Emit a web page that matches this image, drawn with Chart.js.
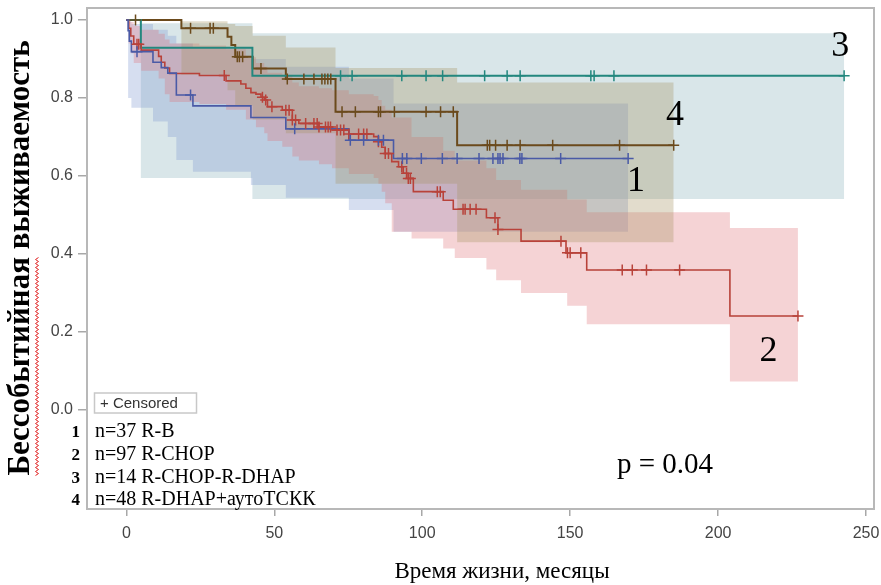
<!DOCTYPE html>
<html>
<head>
<meta charset="utf-8">
<script src="https://cdn.jsdelivr.net/npm/chart.js@4/dist/chart.umd.min.js"></script>
<style>
  html, body { margin: 0; padding: 0; background: #fff; }
  #wrap { width: 881px; height: 585px; position: relative; }
</style>
</head>
<body>
<div id="wrap"><canvas id="c" width="881" height="585"></canvas></div>
<script>
// Axis ticks
const xTicks = [0, 50, 100, 150, 200, 250];
const yTicks = [0, 0.2, 0.4, 0.6, 0.8, 1.0];

// Group labels (legend rows) and curve tags
const groupNames = ['n=37 R-B', 'n=97 R-CHOP', 'n=14 R-CHOP-R-DHAP', 'n=48 R-DHAP+аутоТСКК'];
const groupTags = ['1', '2', '3', '4'];
const pValueText = 'p = 0.04';

// 1: R-B — Kaplan–Meier steps (months, survival)
const g1Times = [0, 0.6, 1.0, 1.7, 9.0, 11.8, 14.0, 16.9, 22.5, 42.1, 53.9, 75.2, 90.3, 169.6];
const g1Surv  = [1, 0.973, 0.946, 0.919, 0.892, 0.878, 0.864, 0.808, 0.780, 0.750, 0.721, 0.692, 0.645, 0.645];
const g1Censor = [3.6, 21.7, 56.9, 75.7, 80.2, 85.2, 86.9, 93.3, 94.8, 99.7, 106.8, 111.8, 119.2, 123.9, 125.6, 126.3, 127.3, 133.0, 133.7, 146.8, 169.6];
const g1BandT  = [0, 0.6, 1.7, 9.0, 14.0, 16.9, 22.5, 42.1, 53.9, 75.2, 90.3, 169.6];
const g1Lower  = [1, 0.80, 0.775, 0.74, 0.70, 0.641, 0.611, 0.577, 0.544, 0.513, 0.457, 0.457];
const g1Upper  = [1, 0.996, 0.99, 0.975, 0.96, 0.94, 0.93, 0.90, 0.88, 0.85, 0.786, 0.786];

// 2: R-CHOP
const g2Times = [0, 0.8, 1.5, 2.5, 5.0, 10.9, 11.8, 13.0, 14.6, 24.7, 33.7, 38.7, 40.4, 42.1, 43.8, 45.5, 46.6, 47.7, 52.7, 56.1, 58.3, 65.1, 69.5, 75.2, 83.6, 85.2, 86.3, 87.5, 89.7, 92.0, 93.6, 95.3, 97.0, 107.1, 110.5, 121.7, 125.6, 133.4, 148.6, 155.6, 204.0, 227.0];
const g2Surv  = [1, 0.979, 0.959, 0.938, 0.923, 0.907, 0.892, 0.877, 0.863, 0.858, 0.844, 0.836, 0.825, 0.814, 0.810, 0.802, 0.795, 0.778, 0.769, 0.744, 0.735, 0.726, 0.718, 0.708, 0.701, 0.688, 0.674, 0.658, 0.637, 0.624, 0.607, 0.594, 0.560, 0.538, 0.515, 0.493, 0.463, 0.433, 0.403, 0.359, 0.241, 0.241];
const g2Censor = [3.6, 4.2, 33.1, 46.0, 47.1, 49.2, 53.9, 55.0, 56.1, 57.2, 60.6, 63.4, 64.5, 65.1, 67.3, 68.2, 69.0, 71.2, 72.4, 73.5, 75.2, 78.5, 80.2, 81.3, 85.2, 87.5, 88.6, 93.1, 94.7, 95.3, 96.0, 105.1, 106.1, 113.8, 114.5, 116.2, 118.2, 124.6, 125.6, 146.9, 149.1, 150.0, 153.6, 167.6, 171.0, 175.8, 187.0, 227.0];
const g2BandT  = [0, 0.8, 1.5, 2.5, 5.0, 10.9, 13.0, 14.6, 24.7, 33.7, 40.4, 43.8, 46.6, 47.7, 52.7, 56.1, 58.3, 65.1, 69.5, 75.2, 83.6, 85.2, 86.3, 87.5, 89.7, 96.4, 107.1, 111.0, 121.7, 125.0, 133.4, 149.0, 155.6, 204.0, 227.0];
const g2Lower  = [1, 0.94, 0.915, 0.89, 0.87, 0.85, 0.81, 0.79, 0.785, 0.77, 0.745, 0.725, 0.71, 0.69, 0.675, 0.65, 0.64, 0.63, 0.62, 0.605, 0.595, 0.58, 0.56, 0.53, 0.457, 0.44, 0.414, 0.39, 0.36, 0.333, 0.30, 0.267, 0.22, 0.073, 0.073];
const g2Upper  = [1, 1.0, 0.995, 0.985, 0.975, 0.965, 0.95, 0.94, 0.935, 0.925, 0.905, 0.89, 0.88, 0.865, 0.86, 0.84, 0.83, 0.825, 0.82, 0.81, 0.805, 0.795, 0.78, 0.77, 0.75, 0.70, 0.665, 0.64, 0.62, 0.59, 0.565, 0.54, 0.507, 0.467, 0.467];

// 3: R-CHOP-R-DHAP
const g3Times = [0, 4.9, 42.6, 242.6];
const g3Surv  = [1, 0.929, 0.857, 0.857];
const g3Censor = [72.4, 76.3, 93.1, 101.3, 106.9, 121.1, 128.7, 133.1, 157.0, 158.1, 164.8, 242.6];
const g3BandT  = [0, 4.9, 42.6, 242.6];
const g3Lower  = [1, 0.595, 0.541, 0.541];
const g3Upper  = [1, 0.992, 0.966, 0.966];

// 4: R-DHAP + auto-HSCT
const g4Times = [0, 18.6, 34.2, 35.5, 36.8, 42.7, 53.9, 70.7, 111.8, 185.0];
const g4Surv  = [1, 0.979, 0.957, 0.936, 0.906, 0.876, 0.849, 0.765, 0.679, 0.679];
const g4Censor = [3.1, 21.7, 28.3, 29.4, 37.5, 38.2, 39.3, 45.5, 54.4, 60.0, 63.4, 66.1, 67.1, 68.1, 69.1, 72.9, 77.4, 85.2, 85.9, 90.6, 101.3, 106.2, 110.5, 122.0, 122.8, 124.8, 128.7, 133.1, 144.1, 166.7, 185.0];
const g4BandT  = [0, 18.6, 34.2, 36.8, 42.7, 53.9, 70.7, 111.8, 185.0];
const g4Lower  = [1, 0.86, 0.82, 0.78, 0.745, 0.71, 0.58, 0.43, 0.43];
const g4Upper  = [1, 0.997, 0.99, 0.985, 0.96, 0.93, 0.877, 0.84, 0.84];

// Where the curve tags sit (months, survival)
const tagX = [172.3, 217.0, 241.3, 185.4];
const tagY = [0.587, 0.149, 0.931, 0.754];

const lineColors = ['#4a5aa6', '#b8423a', '#23877e', '#6b4a1c'];
const bandColors = ['rgba(120,145,205,0.30)', 'rgba(222,110,115,0.30)', 'rgba(120,165,175,0.28)', 'rgba(165,145,95,0.32)'];
const lineWidths = [1.6, 1.6, 2, 2];

const groups = [
  { t: g1Times, s: g1Surv, c: g1Censor, bt: g1BandT, lo: g1Lower, up: g1Upper },
  { t: g2Times, s: g2Surv, c: g2Censor, bt: g2BandT, lo: g2Lower, up: g2Upper },
  { t: g3Times, s: g3Surv, c: g3Censor, bt: g3BandT, lo: g3Lower, up: g3Upper },
  { t: g4Times, s: g4Surv, c: g4Censor, bt: g4BandT, lo: g4Lower, up: g4Upper }
];
const bandOrder = [9, 8, 10, 7];

function pts(xs, ys) { return xs.map((x, i) => ({ x: x, y: ys[i] })); }
function stepValue(times, surv, t) {
  let v = surv[0];
  for (let i = 0; i < times.length; i++) if (times[i] <= t) v = surv[i];
  return v;
}

const datasets = [];
groups.forEach((g, k) => {
  // confidence band: upper filled down to lower
  datasets.push({ data: pts(g.bt, g.up), stepped: true, borderWidth: 0, pointRadius: 0,
                  fill: '+1', backgroundColor: bandColors[k], order: bandOrder[k] });
  datasets.push({ data: pts(g.bt, g.lo), stepped: true, borderWidth: 0, pointRadius: 0,
                  fill: false, order: bandOrder[k] });
});
groups.forEach((g, k) => {
  datasets.push({ data: pts(g.t, g.s), stepped: true, borderColor: lineColors[k], borderWidth: lineWidths[k],
                  pointRadius: 0, fill: false, order: 2 });
});
groups.forEach((g, k) => {
  datasets.push({ data: g.c.map(t => ({ x: t, y: stepValue(g.t, g.s, t) })), showLine: false,
                  pointStyle: 'cross', pointRadius: 5.5, pointBorderColor: lineColors[k],
                  pointBackgroundColor: lineColors[k], pointBorderWidth: 1.5, fill: false, order: 0 });
});

const framePlugin = {
  id: 'frame',
  afterDraw(chart) {
    const { ctx, chartArea: a } = chart;
    ctx.save();
    ctx.strokeStyle = '#b8b8b8';
    ctx.lineWidth = 2;
    ctx.strokeRect(a.left, a.top, a.right - a.left, a.bottom - a.top);
    ctx.restore();
  }
};

const textPlugin = {
  id: 'texts',
  afterDraw(chart) {
    const { ctx } = chart;
    const xs = chart.scales.x, ys = chart.scales.y;
    ctx.save();
    ctx.fillStyle = '#000';

    // y-axis title, rotated
    ctx.save();
    ctx.translate(21, 258);
    ctx.rotate(-Math.PI / 2);
    ctx.font = 'bold 31px "Liberation Serif"';
    ctx.textAlign = 'center';
    ctx.textBaseline = 'middle';
    const title = 'Бессобытийная выживаемость';
    ctx.fillText(title, 0, 0);
    // squiggle under the first word
    const W = ctx.measureText(title).width;
    const w1 = ctx.measureText('Бессобытийная').width;
    ctx.strokeStyle = '#e02020';
    ctx.lineWidth = 1;
    ctx.beginPath();
    let up = true;
    for (let lx = -W / 2; lx <= -W / 2 + w1; lx += 2) {
      const ly = 16 + (up ? -1.5 : 1.5);
      if (lx === -W / 2) ctx.moveTo(lx, ly); else ctx.lineTo(lx, ly);
      up = !up;
    }
    ctx.stroke();
    ctx.restore();

    // x-axis title
    ctx.font = '23px "Liberation Serif"';
    ctx.textAlign = 'center';
    ctx.textBaseline = 'alphabetic';
    ctx.fillText('Время жизни, месяцы', 502, 578);

    // censored key
    ctx.strokeStyle = '#c8c8c8';
    ctx.lineWidth = 1.5;
    ctx.strokeRect(94.5, 393, 102, 20);
    ctx.fillStyle = '#333';
    ctx.font = '15px "Liberation Sans"';
    ctx.textAlign = 'left';
    ctx.textBaseline = 'middle';
    ctx.fillText('+ Censored', 100, 403.5);

    // group rows
    ctx.fillStyle = '#000';
    ctx.textBaseline = 'alphabetic';
    const rowY = [437, 460, 483, 505];
    groupNames.forEach((name, i) => {
      ctx.font = 'bold 17px "Liberation Serif"';
      ctx.textAlign = 'right';
      ctx.fillText(groupTags[i], 80, rowY[i]);
      ctx.font = '20px "Liberation Serif"';
      ctx.textAlign = 'left';
      ctx.fillText(name, 95, rowY[i]);
    });

    // p value
    ctx.font = '29px "Liberation Serif"';
    ctx.textAlign = 'left';
    ctx.fillText(pValueText, 617, 473);

    // curve tags
    ctx.font = '36px "Liberation Serif"';
    ctx.textAlign = 'center';
    ctx.textBaseline = 'middle';
    groupTags.forEach((tag, i) => {
      ctx.fillText(tag, xs.getPixelForValue(tagX[i]), ys.getPixelForValue(tagY[i]));
    });
    ctx.restore();
  }
};

new Chart(document.getElementById('c'), {
  type: 'line',
  data: { datasets: datasets },
  options: {
    responsive: false,
    animation: false,
    events: [],
    layout: { padding: { left: 0, top: 8, right: 2, bottom: 0 } },
    plugins: { legend: { display: false }, tooltip: { enabled: false } },
    scales: {
      x: {
        type: 'linear', min: -13.3, max: 252.7,
        afterBuildTicks: s => { s.ticks = xTicks.map(v => ({ value: v })); },
        afterFit: s => { s.height = 76; s.paddingLeft = 0; s.paddingRight = 0; },
        grid: { drawOnChartArea: false, tickLength: 7, color: '#a8a8a8', lineWidth: 1.5 },
        border: { display: false },
        ticks: { color: '#444', font: { family: 'Liberation Sans', size: 16 }, padding: 8, maxRotation: 0, autoSkip: false }
      },
      y: {
        type: 'linear', min: -0.254, max: 1.031,
        afterBuildTicks: s => { s.ticks = yTicks.map(v => ({ value: v })); },
        afterFit: s => { s.width = 87; s.paddingTop = 0; s.paddingBottom = 0; },
        grid: { drawOnChartArea: false, tickLength: 9, color: '#a8a8a8', lineWidth: 1.5 },
        border: { display: false },
        ticks: { color: '#444', font: { family: 'Liberation Sans', size: 16 }, padding: 5, autoSkip: false,
                 callback: v => v.toFixed(1) }
      }
    }
  },
  plugins: [framePlugin, textPlugin]
});
</script>
</body>
</html>
